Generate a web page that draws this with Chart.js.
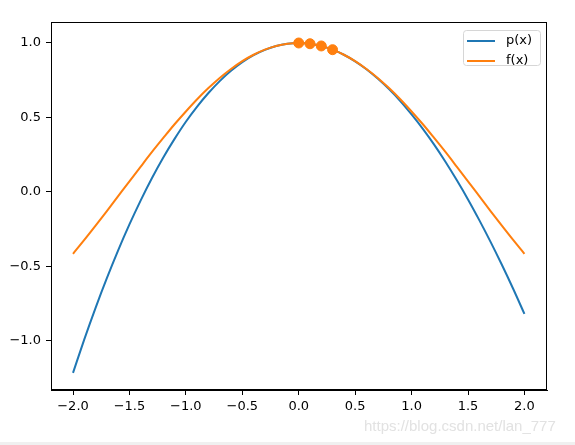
<!DOCTYPE html>
<html>
<head>
<meta charset="utf-8">
<script src="https://cdn.jsdelivr.net/npm/chart.js@4/dist/chart.umd.min.js"></script>
<style>
  html,body{margin:0;padding:0;background:#fff;}
  #wrap{position:relative;width:575px;height:445px;overflow:hidden;}
  #wm{position:absolute;left:364px;top:417px;font-family:"Liberation Sans",Arial,sans-serif;font-size:15px;color:#e2e2e2;white-space:nowrap;}
  #strip{position:absolute;left:0;top:442px;width:575px;height:3px;background:#f0f0f0;}
</style>
</head>
<body>
<div id="wrap">
<canvas id="c" width="575" height="445"></canvas>
<div id="wm">https://blog.csdn.net/lan_777</div>
<div id="strip"></div>
</div>
<script>
// sample positions along x
const xValues = [-2.0,-1.9,-1.8,-1.7,-1.6,-1.5,-1.4,-1.3,-1.2,-1.1,-1.0,-0.9,-0.8,-0.7,-0.6,-0.5,-0.4,-0.3,-0.2,-0.1,0.0,0.1,0.2,0.3,0.4,0.5,0.6,0.7,0.8,0.9,1.0,1.1,1.2,1.3,1.4,1.5,1.6,1.7,1.8,1.9,2.0];
// p(x) series
const pValues = [-1.216,-0.991,-0.779,-0.580,-0.393,-0.219,-0.057,0.093,0.231,0.356,0.471,0.573,0.664,0.744,0.813,0.871,0.918,0.954,0.980,0.995,1.000,0.995,0.980,0.955,0.921,0.877,0.824,0.761,0.690,0.610,0.520,0.423,0.317,0.202,0.079,-0.051,-0.190,-0.336,-0.490,-0.651,-0.820];
// f(x) series
const fValues = [-0.416,-0.323,-0.227,-0.129,-0.029,0.071,0.170,0.268,0.362,0.454,0.540,0.622,0.697,0.765,0.825,0.878,0.921,0.955,0.980,0.995,1.000,0.995,0.980,0.955,0.921,0.878,0.825,0.765,0.697,0.622,0.540,0.454,0.362,0.268,0.170,0.071,-0.029,-0.129,-0.227,-0.323,-0.416];
// marker points
const nodeX = [0.0,0.1,0.2,0.3];
const nodeY = [1.000,0.995,0.980,0.955];
// ticks
const xTickValues = [-2.0,-1.5,-1.0,-0.5,0.0,0.5,1.0,1.5,2.0];
const xTickLabels = ["\u22122.0","\u22121.5","\u22121.0","\u22120.5","0.0","0.5","1.0","1.5","2.0"];
const yTickValues = [-1.0,-0.5,0.0,0.5,1.0];
const yTickLabels = ["\u22121.0","\u22120.5","0.0","0.5","1.0"];
const seriesNames = ["p(x)","f(x)"];
const BLUE = "#1f77b4", ORANGE = "#ff7f0e";

const frameLegend = {
  id:'frameLegend',
  afterDraw(chart){
    const ctx = chart.ctx, a = chart.chartArea;
    ctx.save();
    ctx.strokeStyle = '#000'; ctx.lineWidth = 1;
    ctx.strokeRect(Math.round(a.left)+0.5, Math.round(a.top)+0.5, Math.round(a.right-a.left)-1, Math.round(a.bottom-a.top)-1);
    // legend
    const bx=463.5, by=30.5, bw=77, bh=35, r=3;
    ctx.beginPath();
    ctx.moveTo(bx+r,by); ctx.lineTo(bx+bw-r,by); ctx.quadraticCurveTo(bx+bw,by,bx+bw,by+r);
    ctx.lineTo(bx+bw,by+bh-r); ctx.quadraticCurveTo(bx+bw,by+bh,bx+bw-r,by+bh);
    ctx.lineTo(bx+r,by+bh); ctx.quadraticCurveTo(bx,by+bh,bx,by+bh-r);
    ctx.lineTo(bx,by+r); ctx.quadraticCurveTo(bx,by,bx+r,by); ctx.closePath();
    ctx.fillStyle='rgba(255,255,255,0.8)'; ctx.fill();
    ctx.strokeStyle='#d6d6d6'; ctx.stroke();
    const items=[[seriesNames[0],BLUE,41],[seriesNames[1],ORANGE,61]];
    ctx.font='13px "DejaVu Sans"'; ctx.textBaseline='middle'; ctx.textAlign='left';
    for(const [t,c,y] of items){
      ctx.strokeStyle=c; ctx.lineWidth=2;
      ctx.beginPath(); ctx.moveTo(467,y); ctx.lineTo(495,y); ctx.stroke();
      ctx.fillStyle='#000'; ctx.fillText(t,506,y);
    }
    ctx.restore();
  }
};

new Chart(document.getElementById('c'),{
  type:'line',
  data:{
    datasets:[
      {label:seriesNames[0],data:xValues.map((x,i)=>({x,y:pValues[i]})),borderColor:BLUE,borderWidth:2,pointRadius:0,fill:false,cubicInterpolationMode:'monotone',order:3},
      {label:seriesNames[1],data:xValues.map((x,i)=>({x,y:fValues[i]})),borderColor:ORANGE,borderWidth:2,pointRadius:0,fill:false,cubicInterpolationMode:'monotone',order:2},
      {label:'nodes',type:'scatter',data:nodeX.map((x,i)=>({x,y:nodeY[i]})),backgroundColor:ORANGE,borderColor:ORANGE,pointRadius:5,showLine:false,order:1}
    ]
  },
  options:{
    responsive:false,animation:false,
    layout:{padding:{top:22,right:28,left:0,bottom:0}},
    plugins:{legend:{display:false},tooltip:{enabled:false}},
    scales:{
      x:{type:'linear',min:-2.195,max:2.2,
        afterFit(s){s.height=55;},
        afterBuildTicks(s){s.ticks=xTickValues.map(v=>({value:v}));},
        ticks:{autoSkip:false,maxRotation:0,padding:4,color:'#000',font:{family:'DejaVu Sans',size:13},
          callback:(v)=>xTickLabels[xTickValues.indexOf(v)]},
        grid:{drawOnChartArea:false,drawTicks:true,tickLength:5,color:'#000',tickWidth:1},
        border:{display:true,color:'#000',width:1}
      },
      y:{type:'linear',min:-1.331,max:1.141,
        afterFit(s){s.width=51;},
        afterBuildTicks(s){s.ticks=yTickValues.map(v=>({value:v}));},
        ticks:{autoSkip:false,padding:5,color:'#000',font:{family:'DejaVu Sans',size:13},
          callback:(v)=>yTickLabels[yTickValues.indexOf(v)]},
        grid:{drawOnChartArea:false,drawTicks:true,tickLength:5,color:'#000',tickWidth:1},
        border:{display:true,color:'#000',width:1}
      }
    }
  },
  plugins:[frameLegend]
});
</script>
</body>
</html>
